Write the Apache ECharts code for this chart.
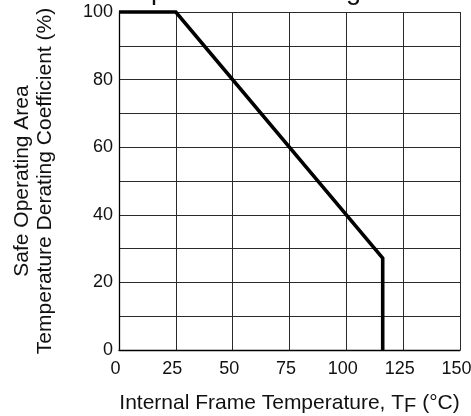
<!DOCTYPE html>
<html>
<head>
<meta charset="utf-8">
<script src="https://cdn.jsdelivr.net/npm/echarts@6/dist/echarts.min.js"></script>
<style>
html,body{margin:0;padding:0;background:#fff;}
#chart{width:471px;height:416px;}
</style>
</head>
<body>
<div id="chart"></div>
<script>
// Data
const curveX = [0, 25, 116, 116];
const curveY = [100, 100, 27.2, 0];
const xTicks = [0, 25, 50, 75, 100, 125, 150];
const yTicks = [0, 20, 40, 60, 80, 100];
const titleText = 'Temperature Derating';
const xName = 'Internal Frame Temperature, T{sub|F} (°C)';
const yName = 'Safe Operating Area\nTemperature Derating Coefficient (%)';

const FONT = 'Liberation Sans, Arial, sans-serif';
const chart = echarts.init(document.getElementById('chart'));
const gridLine = { lineStyle: { color: '#2a2a2a', width: 1 } };

chart.setOption({
  animation: false,
  backgroundColor: '#fff',
  title: {
    text: titleText,
    left: 95,
    top: -27,
    textStyle: { fontFamily: FONT, fontSize: 27, fontWeight: 'normal', color: '#111' }
  },
  grid: { left: 119, right: 11, top: 12, bottom: 66, outerBoundsMode: 'none', containLabel: false },
  xAxis: {
    type: 'value',
    min: xTicks[0], max: xTicks[xTicks.length - 1], interval: xTicks[1] - xTicks[0],
    axisLine: { show: true, onZero: false, lineStyle: { color: '#000', width: 1.3 } },
    axisTick: { show: false },
    splitLine: Object.assign({ show: true }, gridLine),
    axisLabel: { fontFamily: FONT, fontSize: 18, color: '#111', margin: 10, padding: [0, 7, 0, 0] },
    name: xName,
    nameLocation: 'middle',
    nameGap: 40,
    nameTextStyle: {
      fontFamily: FONT, fontSize: 21, color: '#111',
      rich: { sub: { fontFamily: FONT, fontSize: 20, color: '#111', padding: [6, 0, 0, 0] } }
    }
  },
  yAxis: {
    type: 'value',
    min: yTicks[0], max: yTicks[yTicks.length - 1], interval: yTicks[1] - yTicks[0],
    axisLine: { show: true, onZero: false, lineStyle: { color: '#000', width: 1.3 } },
    axisTick: { show: false },
    splitLine: Object.assign({ show: true }, gridLine),
    minorTick: { show: false, splitNumber: 2 },
    minorSplitLine: Object.assign({ show: true }, gridLine),
    axisLabel: { fontFamily: FONT, fontSize: 18, color: '#111', margin: 6 },
    name: yName,
    nameLocation: 'middle',
    nameRotate: 90,
    nameGap: 62,
    nameTextStyle: { fontFamily: FONT, fontSize: 21, color: '#111', lineHeight: 23, align: 'center' }
  },
  series: [{
    type: 'line',
    data: curveX.map((x, i) => [x, curveY[i]]),
    showSymbol: false,
    symbol: 'none',
    lineStyle: { color: '#000', width: 3.6, join: 'miter' },
    clip: false
  }]
});
</script>
</body>
</html>
